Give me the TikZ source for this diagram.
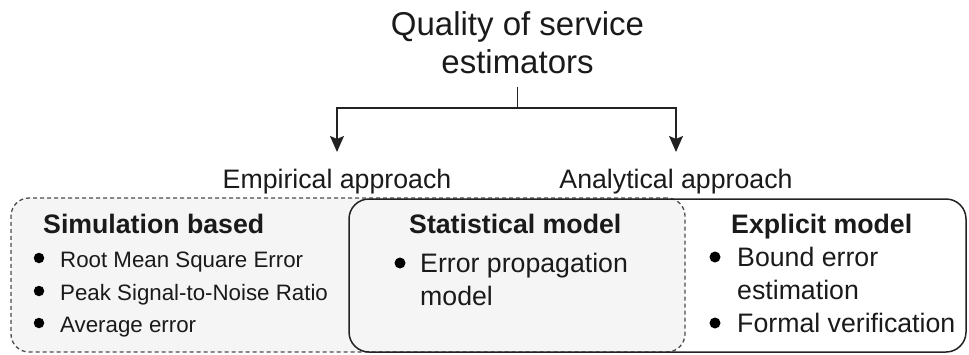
\documentclass[tikz,border=0pt]{standalone}
\usepackage{fontspec}
\setmainfont{Liberation Sans}
\usetikzlibrary{arrows.meta}
\definecolor{panelgray}{HTML}{F5F5F5}
\definecolor{dashgray}{HTML}{4D4D4D}
\definecolor{edgegray}{HTML}{222222}
\definecolor{ink}{HTML}{1A1A1A}
\begin{document}
\begin{tikzpicture}[x=1pt,y=-1pt,
  titletext/.style={font=\fontsize{33}{38}\selectfont, text=ink, inner sep=0pt, anchor=base},
  approach/.style={font=\fontsize{26.7}{33}\selectfont, text=ink, inner sep=0pt, anchor=base},
  heading/.style={font=\bfseries\fontsize{26.7}{33}\selectfont, text=ink, inner sep=0pt, anchor=base west},
  item/.style={font=\fontsize{26.7}{33}\selectfont, text=ink, inner sep=0pt, anchor=base west},
  smallitem/.style={font=\fontsize{22.3}{33}\selectfont, text=ink, inner sep=0pt, anchor=base west},
  dot/.style={circle, fill=black, draw=none, inner sep=0pt, minimum size=#1},
  dot/.default=10.5pt,
  wire/.style={draw=edgegray, line width=1.5pt},
  arrowtip/.style={-{Stealth[length=16pt,width=14pt,inset=3pt]}},
  empiricalbox/.style={draw=dashgray, fill=panelgray, dash pattern=on 4pt off 3pt,
    line width=1.3pt, rounded corners=18pt, inner sep=0pt},
  analyticalbox/.style={draw=edgegray, line width=1.5pt, rounded corners=20pt, inner sep=0pt}
]
\useasboundingbox (0,0) rectangle (969,354);

% grouping panels: the empirical panel is filled, the analytical one is an outline on top
\node[empiricalbox, minimum width=674pt, minimum height=154pt] (empbox) at (348,275) {};
\node[analyticalbox, minimum width=617pt, minimum height=153pt] (anabox) at (657.5,275.5) {};

% title and the two approaches
\node[titletext] (title1) at (517.5,35) {Quality of service};
\node[titletext] (title2) at (517.5,73) {estimators};
\node[approach] (empirical) at (337,188) {Empirical approach};
\node[approach] (analytical) at (676,188) {Analytical approach};

\coordinate (fork) at (517.5,108);
\draw[wire, shorten <=13pt] (title2.south) -- (fork);
\draw[wire, arrowtip, shorten >=16.5pt] (fork) -| (empirical.north);
\draw[wire, arrowtip, shorten >=16.5pt] (fork) -| (analytical.north);

% simulation based
\node[heading] (simhead) at (43,233) {Simulation based};
\node[dot] (simdot1) at (39,258) {};
\node[dot] (simdot2) at (39,291) {};
\node[dot] (simdot3) at (39,323) {};
\node[smallitem] (simitem1) at (60,267) {Root Mean Square Error};
\node[smallitem] (simitem2) at (60,300) {Peak Signal-to-Noise Ratio};
\node[smallitem] (simitem3) at (60,332) {Average error};

% statistical model
\node[heading] (stathead) at (409,233) {Statistical model};
\node[dot=11pt] (statdot1) at (400,263) {};
\node[item] (statitem1) at (420,272) {Error propagation};
\node[item] (statitem1b) at (420,305) {model};

% explicit model
\node[heading] (explhead) at (731,233) {Explicit model};
\node[dot=11pt] (expldot1) at (715,257) {};
\node[dot=11pt] (expldot2) at (715,323) {};
\node[item] (explitem1) at (737,266) {Bound error};
\node[item] (explitem1b) at (737,299) {estimation};
\node[item] (explitem2) at (737,332) {Formal verification};
\end{tikzpicture}
\end{document}
